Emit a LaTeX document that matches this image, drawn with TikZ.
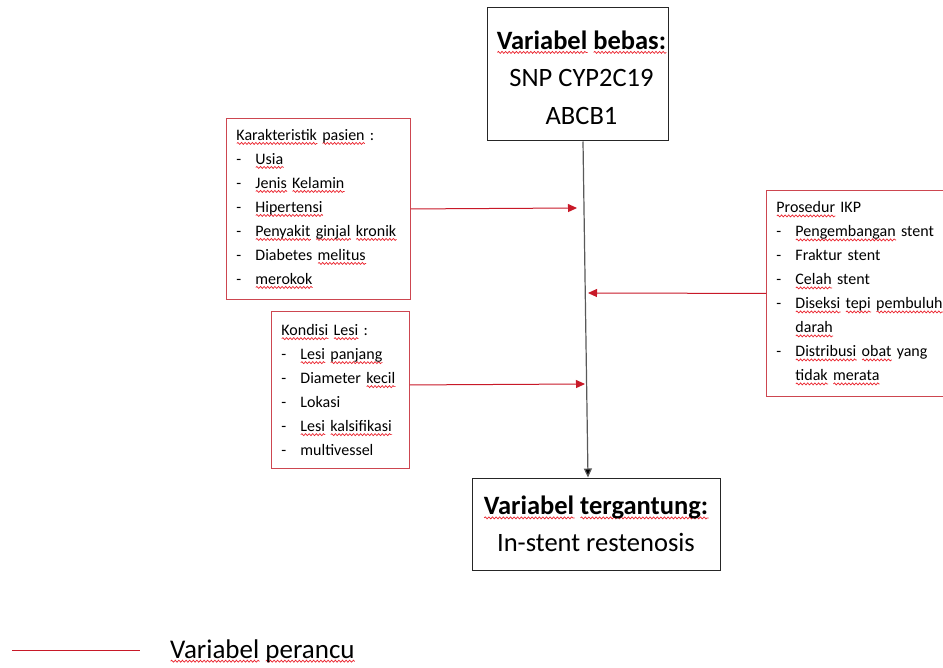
\documentclass[tikz,border=0pt]{standalone}
\usepackage{fontspec}
\setmainfont{Carlito}
\usetikzlibrary{arrows.meta,decorations.pathmorphing}
\definecolor{confred}{RGB}{200,25,40}
\definecolor{framered}{RGB}{205,70,80}
\definecolor{spellred}{RGB}{235,35,45}
\newdimen\sqlen
\newcommand\sq[1]{\leavevmode\setbox0\hbox{#1}\sqlen=\wd0\relax
  \rlap{\tikz[baseline=0pt]\draw[spellwave] (0pt,-3.2pt) -- (\sqlen,-3.2pt);}\box0\relax}
\newcommand\li{\makebox[19pt][l]{-}}
\tikzset{
  spellwave/.style={draw=spellred, line width=0.7pt, decorate,
    decoration={snake, amplitude=1pt, segment length=3.6pt}},
  varbox/.style={draw=black!85, line width=1pt, align=center, inner sep=0pt,
    font=\fontsize{26.5}{37}\selectfont},
  vartext/.style={align=center, inner sep=0pt, font=\fontsize{26.5}{37.5}\selectfont},
  listbox/.style={draw=framered, line width=0.9pt, align=left, anchor=north west,
    inner xsep=10pt, inner ysep=0pt, font=\fontsize{16}{24}\selectfont},
  confarrow/.style={draw=confred, line width=1pt, -{Triangle[length=9pt,width=8pt]}},
  mainarrow/.style={draw=black!65, line width=1.2pt, -{Triangle[length=9pt,width=8pt,fill=black]}}
}
\begin{document}
\begin{tikzpicture}[x=1pt,y=-1pt]
  \fill[white] (0,0) rectangle (943,668);
  \clip (0,0) rectangle (943,668);

  % variabel boxes
  \node[varbox, minimum width=181pt, minimum height=133pt] (bebas) at (577.5,74.5) {};
  \node[vartext] (bebastext) at (581.5,77.5)
    {\textbf{\sq{Variabel} \sq{bebas:}}\\SNP CYP2C19\\ABCB1};
  \node[varbox, minimum width=248pt, minimum height=92pt] (terikat) at (596,524)
    {\textbf{\sq{Variabel} \sq{tergantung:}}\\In-stent restenosis};

  % perancu boxes
  \node[listbox, text width=164pt, minimum height=181pt] (pasien) at (226,118)
    {\sq{Karakteristik} \sq{pasien} :\\
     \li\sq{Usia}\\
     \li\sq{Jenis} \sq{Kelamin}\\
     \li\sq{Hipertensi}\\
     \li\sq{Penyakit} \sq{ginjal} \sq{kronik}\\
     \li Diabetes \sq{melitus}\\
     \li\sq{merokok}};
  \node[listbox, text width=118pt, minimum height=157pt] (lesi) at (271,311)
    {\sq{Kondisi} \sq{Lesi} :\\
     \li\sq{Lesi} \sq{panjang}\\
     \li Diameter \sq{kecil}\\
     \li Lokasi\\
     \li\sq{Lesi} \sq{kalsifikasi}\\
     \li multivessel};
  \node[listbox, text width=200pt, minimum height=206pt] (ikp) at (766,190)
    {\sq{Prosedur} IKP\\
     \li\sq{Pengembangan} stent\\
     \li Fraktur stent\\
     \li\sq{Celah} stent\\
     \li\sq{Diseksi} \sq{tepi} \sq{pembuluh}\\
     \hspace*{19pt}\sq{darah}\\
     \li\sq{Distribusi} \sq{obat} yang\\
     \hspace*{19pt}\sq{tidak} \sq{merata}};

  % arrows
  \draw[mainarrow] ([xshift=5.5pt]bebas.south) -- ([xshift=-8pt]terikat.north);
  \coordinate (tipA) at (577,208);
  \coordinate (tipB) at (585,384);
  \coordinate (tipC) at (588,293);
  \draw[confarrow] (pasien.east) -- (tipA);
  \draw[confarrow] ([yshift=5pt]lesi.east) -- (tipB);
  \draw[confarrow] (ikp.west) -- (tipC);

  % legend
  \coordinate (legA) at (12,650);
  \coordinate (legB) at (140,650);
  \draw[confred, line width=1pt] (legA) -- (legB);
  \node[anchor=base west, inner sep=0pt, font=\fontsize{27}{32}\selectfont] (legtext) at (170,658)
    {\sq{Variabel} \sq{perancu}};
\end{tikzpicture}
\end{document}
